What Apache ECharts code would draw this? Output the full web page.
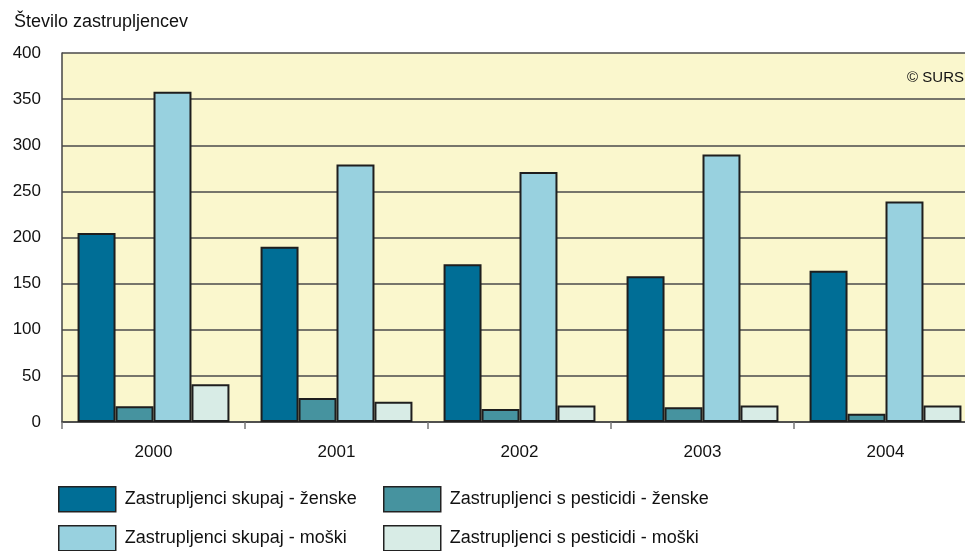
<!DOCTYPE html>
<html>
<head>
<meta charset="utf-8">
<script src="https://cdn.jsdelivr.net/npm/echarts@6/dist/echarts.min.js"></script>
<style>
  html, body { margin: 0; padding: 0; background: #fff; }
  #chart { width: 965px; height: 551px; }
</style>
</head>
<body>
<div id="chart"></div>
<script>
  // leta
  const years = ['2000', '2001', '2002', '2003', '2004']
  // število zastrupljencev po skupinah
  const skupajZenske = [205, 190, 171, 158, 164]
  const pesticidiZenske = [17, 26, 14, 16, 9]
  const skupajMoski = [358, 279, 271, 290, 239]
  const pesticidiMoski = [41, 22, 18, 18, 18]
  const yTicks = [0, 50, 100, 150, 200, 250, 300, 350, 400]

  const names = [
    'Zastrupljenci skupaj - ženske',
    'Zastrupljenci s pesticidi - ženske',
    'Zastrupljenci skupaj - moški',
    'Zastrupljenci s pesticidi - moški'
  ]
  const colors = ['#006e96', '#46939f', '#98d1df', '#d8ece6']
  const values = [skupajZenske, pesticidiZenske, skupajMoski, pesticidiMoski]

  const font = '"Liberation Sans", Arial, sans-serif'
  const chart = echarts.init(document.getElementById('chart'))

  // legenda: vsaka postavka posebej, 2 x 2
  const legendPos = [[58, 486], [383, 486], [58, 525], [383, 525]]
  const legends = names.map((n, i) => ({
    data: [n],
    left: legendPos[i][0],
    top: legendPos[i][1],
    itemWidth: 57,
    itemHeight: 25,
    padding: 0,
    icon: 'rect',
    selectedMode: false,
    itemStyle: { borderColor: '#222', borderWidth: 1.5 },
    textStyle: { fontFamily: font, fontSize: 18, color: '#111', padding: [0, 0, 0, 4] }
  }))

  const option = {
    animation: false,
    textStyle: { fontFamily: font },
    title: {
      text: 'Število zastrupljencev',
      left: 9,
      top: 8,
      textStyle: { fontFamily: font, fontSize: 18, fontWeight: 'normal', color: '#111' }
    },
    graphic: [{
      type: 'text',
      right: 1,
      top: 70,
      style: { text: '© SURS', font: '15px ' + font, fill: '#111' }
    }],
    legend: legends,
    grid: {
      left: 62,
      top: 53,
      width: 915,
      height: 369,
      outerBoundsMode: 'none',
      show: true,
      backgroundColor: '#faf7cd',
      borderWidth: 0
    },
    xAxis: {
      type: 'category',
      data: years,
      axisLine: { lineStyle: { color: '#444', width: 1.5 } },
      axisTick: { show: true, length: 7, lineStyle: { color: '#777', width: 1.5 } },
      axisLabel: { fontFamily: font, fontSize: 17, color: '#111', margin: 22 },
      splitLine: { show: false }
    },
    yAxis: {
      type: 'value',
      min: yTicks[0],
      max: yTicks[yTicks.length - 1],
      interval: yTicks[1] - yTicks[0],
      axisLine: { show: true, lineStyle: { color: '#444', width: 1.5 } },
      axisTick: { show: false },
      axisLabel: { fontFamily: font, fontSize: 17, color: '#111', margin: 21 },
      splitLine: { lineStyle: { color: '#4a4a4a', width: 1.5 } }
    },
    series: names.map((n, i) => ({
      name: n,
      type: 'bar',
      data: values[i],
      barGap: 0,
      barCategoryGap: '17%',
      itemStyle: { color: colors[i], borderColor: '#1e1e1e', borderWidth: 2 }
    }))
  }
  chart.setOption(option)
</script>
</body>
</html>
